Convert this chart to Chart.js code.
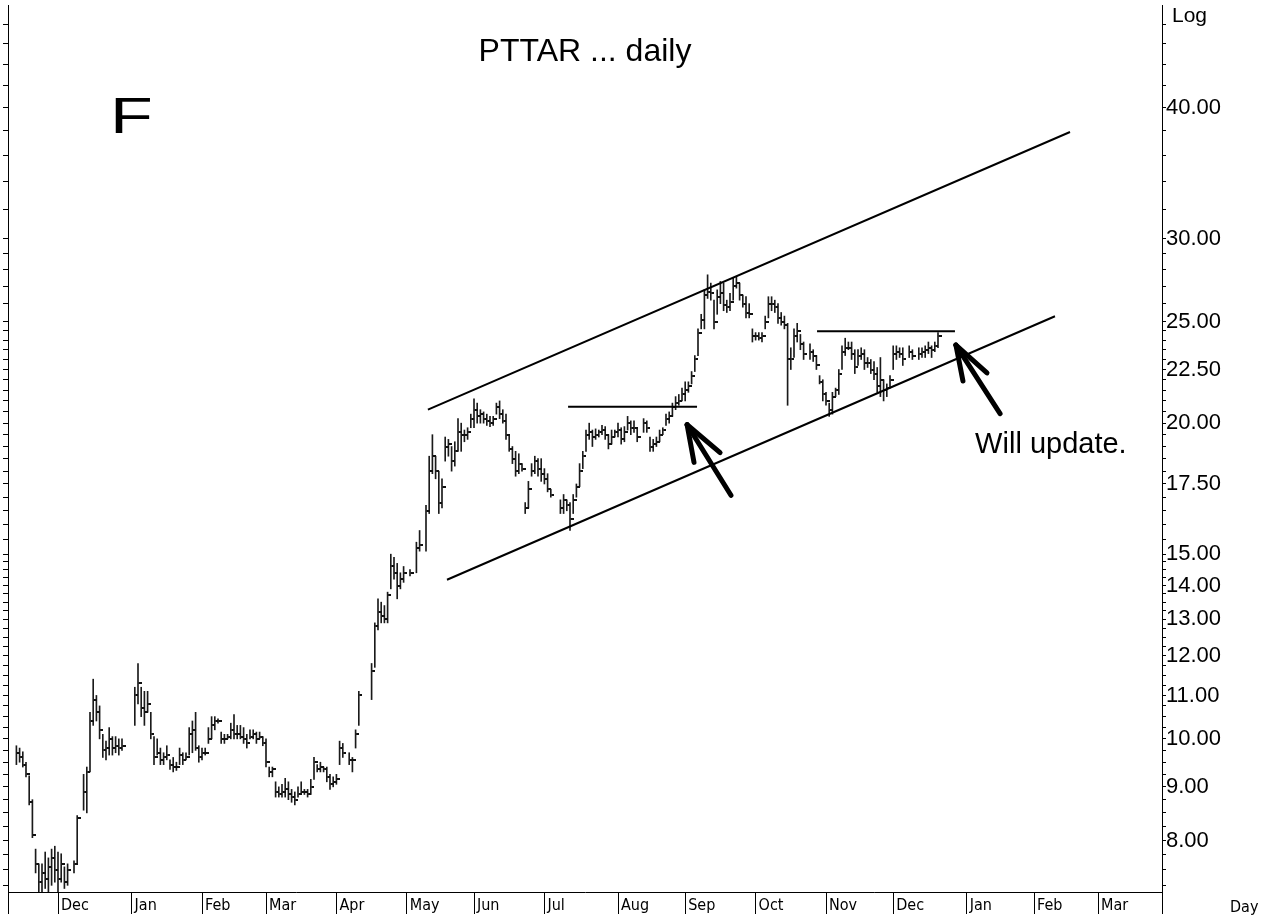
<!DOCTYPE html>
<html><head><meta charset="utf-8">
<script src="https://cdn.jsdelivr.net/npm/chart.js@4.4.1/dist/chart.umd.min.js"></script>
<style>html,body{margin:0;padding:0;background:#fff;}#wrap{width:1276px;height:920px;}</style>
</head><body><div id="wrap"><canvas id="c" width="1276" height="920"></canvas></div>
<script>
// ---- data (one entry per weekday starting 2008-11-12; null = no trading) ----
const startDate = '2008-11-12';
const axisEndDate = '2010-03-31';
const monthNames = ['Jan','Feb','Mar','Apr','May','Jun','Jul','Aug','Sep','Oct','Nov','Dec'];

const highs = [
 9.85,9.8,9.72,9.5,9.22,8.75,7.85,7.6,7.6,7.8,7.7,7.85,7.9,
 7.8,7.77,7.55,7.6,null,7.65,8.45,null,9.25,9.4,10.6,11.4,11.0,10.75,10.1,9.95,10.25,10.05,10.05,10.0,10.0,null,null,
 null,11.2,11.8,11.2,11.1,11.1,10.6,10.05,10.0,9.8,9.7,9.85,9.55,9.6,9.5,9.8,9.7,9.7,10.25,10.4,10.6,9.85,
 9.8,9.8,10.25,10.5,10.5,10.45,10.15,10.1,10.1,10.35,10.55,10.3,10.3,10.25,10.1,10.2,10.2,10.15,10.15,10.05,
 10.0,9.4,9.4,9.1,9.0,9.05,9.17,9.1,8.95,8.9,9.0,9.1,8.95,8.95,9.15,9.6,9.45,9.5,9.4,9.4,9.25,9.2,
 9.25,9.95,9.9,null,9.7,9.6,10.2,11.1,null,null,null,11.8,12.9,13.6,13.5,13.4,13.8,15.0,14.9,14.7,14.4,14.6,
 null,14.5,null,15.4,15.8,null,16.7,18.6,19.5,18.6,18.0,17.7,19.4,19.3,19.0,19.2,20.2,20.0,19.7,19.8,20.4,
 21.1,20.9,20.6,20.5,20.4,20.3,20.3,20.9,21.0,20.6,20.4,19.5,19.0,18.8,18.7,18.3,16.8,17.6,18.3,18.6,18.5,18.5,
 18.1,17.9,17.3,null,null,16.9,17.1,16.9,16.8,17.1,17.5,18.3,18.8,19.7,20.0,19.7,19.75,19.7,19.9,19.85,19.5,19.7,19.7,
 20.0,19.8,19.85,20.3,20.1,20.1,19.75,null,20.2,20.1,19.4,19.3,19.4,19.7,19.8,20.4,20.5,20.9,21.2,21.3,21.6,
 21.9,21.9,22.4,23.2,24.6,25.4,26.8,27.7,27.2,26.2,26.8,27.3,27.2,26.2,26.6,27.5,27.6,27.2,26.5,26.4,26.0,24.6,
 24.4,24.4,24.4,25.3,26.4,26.4,26.2,26.0,25.5,25.3,24.9,23.6,24.6,24.9,24.3,23.9,null,23.8,23.5,23.2,22.2,22.0,
 21.4,20.9,21.4,21.6,22.5,23.7,24.1,23.9,23.9,23.5,23.5,23.6,23.5,23.1,23.0,22.9,22.6,23.1,22.0,21.8,22.2,
 23.7,23.7,23.6,23.6,null,23.7,23.5,null,23.6,23.6,23.7,23.9,23.7,23.9,24.4
];
const lows = [
 9.45,9.5,9.4,9.2,8.65,8.05,7.45,7.15,7.15,7.2,7.15,7.25,7.3,
 7.15,7.3,7.2,7.25,null,7.45,7.62,null,8.55,8.5,9.3,10.3,10.4,10.0,9.6,9.55,9.65,9.65,9.7,9.65,9.75,null,null,
 null,10.3,10.8,10.5,10.3,10.6,10.0,9.45,9.65,9.45,9.45,9.55,9.35,9.3,9.33,9.45,9.45,9.55,9.65,9.7,9.75,9.5,
 9.55,9.65,9.9,10.0,10.2,10.35,9.9,9.9,10.0,10.0,10.0,10.0,10.0,9.9,9.8,10.0,10.0,9.9,10.0,9.85,
 9.4,9.2,9.2,8.8,8.8,8.8,8.8,8.75,8.7,8.65,8.8,8.85,8.85,8.8,8.85,9.15,9.3,9.3,9.3,9.1,8.95,9.0,
 9.05,9.45,9.6,null,9.45,9.3,9.8,10.3,null,null,null,10.9,11.7,12.7,12.9,12.9,12.9,13.9,14.2,13.6,13.9,14.1,
 null,14.3,null,14.4,15.1,null,15.1,16.4,17.9,17.7,16.4,16.6,18.4,18.6,18.0,18.2,18.8,18.8,19.2,19.3,19.8,
 19.8,20.0,20.0,20.0,19.9,19.85,19.9,20.4,20.2,20.0,19.3,18.8,18.3,17.8,17.9,18.0,16.4,16.6,17.8,17.9,17.8,17.6,
 17.5,17.2,17.0,null,null,16.4,16.4,16.5,15.8,16.4,17.0,17.4,18.1,18.8,19.3,19.0,19.3,19.4,19.5,19.3,18.9,19.1,19.4,
 19.4,19.1,19.2,19.7,19.5,19.6,19.2,null,19.6,19.6,18.8,18.8,19.0,19.2,19.5,19.9,20.0,20.3,20.6,20.8,21.0,
 21.0,21.4,21.8,22.4,23.2,24.6,24.6,26.3,26.2,24.6,25.4,26.0,25.6,25.5,25.6,26.2,26.9,26.2,25.8,25.2,25.2,23.9,
 24.0,24.0,23.9,24.6,25.2,25.6,25.5,24.9,24.8,24.6,20.8,22.5,23.1,23.9,23.5,23.0,null,23.0,22.9,22.5,21.8,21.0,
 20.8,20.3,20.4,21.2,21.3,22.5,23.2,23.5,23.0,22.3,22.7,23.0,22.5,22.6,22.3,22.0,21.4,21.2,21.0,21.2,21.6,
 22.5,23.0,23.1,22.7,null,23.1,23.0,null,23.0,23.1,23.1,23.3,23.1,23.4,23.6
];
const closes = [
 9.7,9.6,9.45,9.25,8.7,8.1,7.6,7.3,7.45,7.35,7.55,7.7,7.5,
 7.35,7.6,7.3,7.5,null,7.6,8.4,null,8.9,9.3,10.4,10.9,10.6,10.2,9.75,9.8,10.0,9.8,9.85,9.8,9.85,null,null,
 null,11.0,11.3,10.7,10.6,10.8,10.1,9.6,9.7,9.55,9.6,9.65,9.45,9.4,9.4,9.65,9.55,9.6,10.1,10.2,9.8,9.6,
 9.7,9.7,10.0,10.3,10.4,10.4,10.0,10.0,10.05,10.2,10.1,10.1,10.05,10.0,9.9,10.05,10.1,10.0,10.05,9.9,
 9.5,9.3,9.35,8.9,8.85,8.9,8.95,8.85,8.8,8.75,8.85,8.9,8.9,8.85,9.0,9.5,9.35,9.4,9.35,9.2,9.05,9.1,
 9.15,9.8,9.7,null,9.55,9.55,10.1,11.0,null,null,null,11.6,12.8,13.2,13.1,13.0,13.7,14.6,14.4,14.0,14.2,14.4,
 null,14.4,null,15.2,15.3,null,16.5,18.0,18.6,18.0,16.8,17.4,19.0,19.1,18.4,18.8,19.6,19.5,19.5,19.6,20.2,
 20.6,20.3,20.4,20.2,20.1,20.0,20.2,20.7,20.4,20.1,19.5,18.9,18.5,18.0,18.3,18.1,16.6,17.3,18.0,18.4,18.1,17.9,
 17.7,17.3,17.1,null,null,16.6,16.9,16.7,16.2,16.9,17.4,18.0,18.6,19.5,19.6,19.4,19.5,19.6,19.7,19.5,19.1,19.4,19.6,
 19.7,19.3,19.6,20.0,19.8,19.8,19.4,null,20.0,19.8,19.0,19.1,19.2,19.5,19.7,20.2,20.3,20.7,20.9,21.0,21.3,
 21.5,21.7,22.2,23.0,24.4,25.1,26.5,26.7,26.6,25.0,26.4,26.6,25.9,25.8,26.1,27.0,27.2,26.5,26.0,25.5,25.4,24.2,
 24.2,24.1,24.2,25.0,26.0,26.0,25.8,25.2,25.0,24.8,23.0,23.0,24.2,24.5,23.8,23.3,null,23.4,23.2,22.7,21.9,21.3,
 21.0,20.6,21.2,21.5,22.3,23.4,23.6,23.6,23.3,22.6,23.2,23.3,22.8,22.8,22.5,22.3,21.7,22.0,21.5,21.6,22.0,
 23.3,23.4,23.3,23.0,null,23.4,23.2,null,23.3,23.4,23.5,23.6,23.5,23.7,24.2
];

// y axis ticks (log scale)
const yMajorTicks = [8,9,10,11,12,13,14,15,17.5,20,22.5,25,30,40];
const yMinorTicks = [7.25,7.5,7.75,8.25,8.5,8.75,9.25,9.5,9.75,10.25,10.5,10.75,11.25,11.5,11.75,12.25,12.5,12.75,13.25,13.5,13.75,14.25,14.5,14.75,
  15.5,16,16.5,17,18,18.5,19,19.5,20.5,21,21.5,22,23,23.5,24,24.5,26,27,28,29,32,34,36,38,42,44,46,48];
const yRange = [7.1445, 50.09];
const xRange = [-2.625, 358];

// annotations, in data units [weekday index, price]
const channelUpper = [[128.6, 20.6], [329.25, 37.9]];
const channelLower = [[134.56, 14.18], [324.56, 25.29]];
const resistance1 = [[172.4, 20.73], [212.7, 20.73]];
const resistance2 = [[250.2, 24.47], [293.3, 24.47]];
const arrow1 = [[209.6, 19.93], [223.3, 17.07], [211.75, 18.35], [219.9, 18.75]]; // tip, tail, barb, barb
const arrow2 = [[293.6, 23.74], [307.4, 20.42], [295.8, 21.94], [303.3, 22.33]];
const noteAnchor = [299.6, 19.08];
const titleText = 'PTTAR ... daily';
const noteText = 'Will update.';
const panelLetter = 'F';

// ---- build ----
function weekdays(a, b) {
  const out = []; const d = new Date(a + 'T00:00:00Z'); const e = new Date(b + 'T00:00:00Z');
  while (d <= e) { const w = d.getUTCDay(); if (w !== 0 && w !== 6) out.push(new Date(d)); d.setUTCDate(d.getUTCDate() + 1); }
  return out;
}
const days = weekdays(startDate, axisEndDate);
const monthTicks = [];
for (let i = 1; i < days.length; i++) {
  if (days[i].getUTCMonth() !== days[i - 1].getUTCMonth()) monthTicks.push({ value: i, label: monthNames[days[i].getUTCMonth()] });
}
const xTickLabel = {}; monthTicks.forEach(t => xTickLabel[t.value] = t.label);

const rangeData = [], closeData = [];
highs.forEach((h, i) => {
  if (h == null) return;
  rangeData.push({ x: i, y: [lows[i], h] });
  closeData.push({ x: i, y: closes[i] });
});

const tickImg = document.createElement('canvas');
tickImg.width = 7; tickImg.height = 2;
(function(){ const c = tickImg.getContext('2d'); c.fillStyle = '#111'; c.fillRect(4, 0, 3, 2); })();

const allYTicks = yMajorTicks.concat(yMinorTicks).sort((a, b) => a - b);
function setYTicks(scale) { scale.ticks = allYTicks.map(v => ({ value: v })); }
const LABEL_FONT = "'Liberation Sans', Arial, sans-serif";
const AXIS_FONT = "'DejaVu Sans Condensed', 'DejaVu Sans', sans-serif";

const annotate = {
  id: 'annotate',
  afterDatasetsDraw(chart) {
    const ctx = chart.ctx, xs = chart.scales.x, ys = chart.scales.y, ca = chart.chartArea;
    const P = p => [xs.getPixelForValue(p[0]), ys.getPixelForValue(p[1])];
    ctx.save();
    ctx.strokeStyle = '#000'; ctx.fillStyle = '#000';
    function seg(a, b, w) { const A = P(a), B = P(b); ctx.lineWidth = w; ctx.beginPath(); ctx.moveTo(A[0], A[1]); ctx.lineTo(B[0], B[1]); ctx.stroke(); }
    ctx.lineCap = 'butt';
    seg(channelUpper[0], channelUpper[1], 2);
    seg(channelLower[0], channelLower[1], 2);
    seg(resistance1[0], resistance1[1], 2);
    seg(resistance2[0], resistance2[1], 2);
    ctx.lineCap = 'round';
    [arrow1, arrow2].forEach(a => { seg(a[0], a[1], 5); seg(a[0], a[2], 5); seg(a[0], a[3], 5); });
    ctx.textBaseline = 'alphabetic';
    ctx.textAlign = 'center';
    ctx.font = '32px ' + LABEL_FONT;
    ctx.fillText(titleText, (ca.left + ca.right) / 2, 61);
    ctx.textAlign = 'left';
    ctx.save();
    ctx.translate(ca.left + 102, 133);
    ctx.scale(1.4, 1);
    ctx.font = '50px ' + LABEL_FONT;
    ctx.fillText(panelLetter, 0, 0);
    ctx.restore();
    ctx.font = '29px ' + LABEL_FONT;
    const n = P(noteAnchor);
    ctx.textBaseline = 'middle';
    ctx.fillText(noteText, n[0], n[1]);
    ctx.textBaseline = 'alphabetic';
    ctx.font = '21px ' + LABEL_FONT;
    ctx.fillText('Log', ys.left + 10, 22);
    ctx.font = '16px ' + AXIS_FONT;
    ctx.fillText('Day', ys.left + 68, 912);
    ctx.restore();
  }
};

new Chart(document.getElementById('c'), {
  type: 'bar',
  data: {
    datasets: [
      { type: 'bar', data: rangeData, backgroundColor: '#1a1a1a', barThickness: 1, borderWidth: 0, grouped: false, yAxisID: 'y', order: 2 },
      { type: 'scatter', data: closeData, pointStyle: tickImg, pointRadius: 3, yAxisID: 'y', order: 1 }
    ]
  },
  options: {
    responsive: false, animation: false, devicePixelRatio: 1,
    layout: { padding: 0 },
    plugins: { legend: { display: false }, tooltip: { enabled: false }, title: { display: false } },
    scales: {
      x: {
        type: 'linear', min: xRange[0], max: xRange[1], offset: false, position: 'bottom',
        afterBuildTicks: s => { s.ticks = [{ value: xRange[0] }].concat(monthTicks.map(t => ({ value: t.value }))).concat([{ value: xRange[1] }]); },
        afterFit: s => { s.height = 28; s.paddingLeft = 0; s.paddingRight = 0; },
        grid: { drawOnChartArea: false, offset: false, tickLength: 22, color: '#000', tickWidth: 1 },
        border: { display: true, color: '#000', width: 1 },
        ticks: { autoSkip: false, maxRotation: 0, minRotation: 0, align: 'start', padding: -18, labelOffset: 3,
          color: '#000', font: { family: AXIS_FONT, size: 16 },
          callback: v => xTickLabel[v] || '' }
      },
      y: {
        type: 'logarithmic', position: 'right', min: yRange[0], max: yRange[1],
        afterBuildTicks: setYTicks,
        afterFit: s => { s.width = 114; s.paddingTop = 0; s.paddingBottom = 0; },
        grid: { drawOnChartArea: false, tickLength: 4, color: '#000' },
        border: { display: true, color: '#000', width: 1 },
        ticks: { autoSkip: false, padding: 0, color: '#000', font: { family: LABEL_FONT, size: 22 },
          callback: v => yMajorTicks.includes(v) ? v.toFixed(2) : '' }
      },
      yL: {
        type: 'logarithmic', position: 'left', min: yRange[0], max: yRange[1],
        afterBuildTicks: setYTicks,
        afterFit: s => { s.width = 8; s.paddingTop = 0; s.paddingBottom = 0; },
        grid: { drawOnChartArea: false, tickLength: 5, color: '#000' },
        border: { display: true, color: '#000', width: 1 },
        ticks: { display: false, autoSkip: false }
      }
    }
  },
  plugins: [annotate]
});
</script></body></html>
